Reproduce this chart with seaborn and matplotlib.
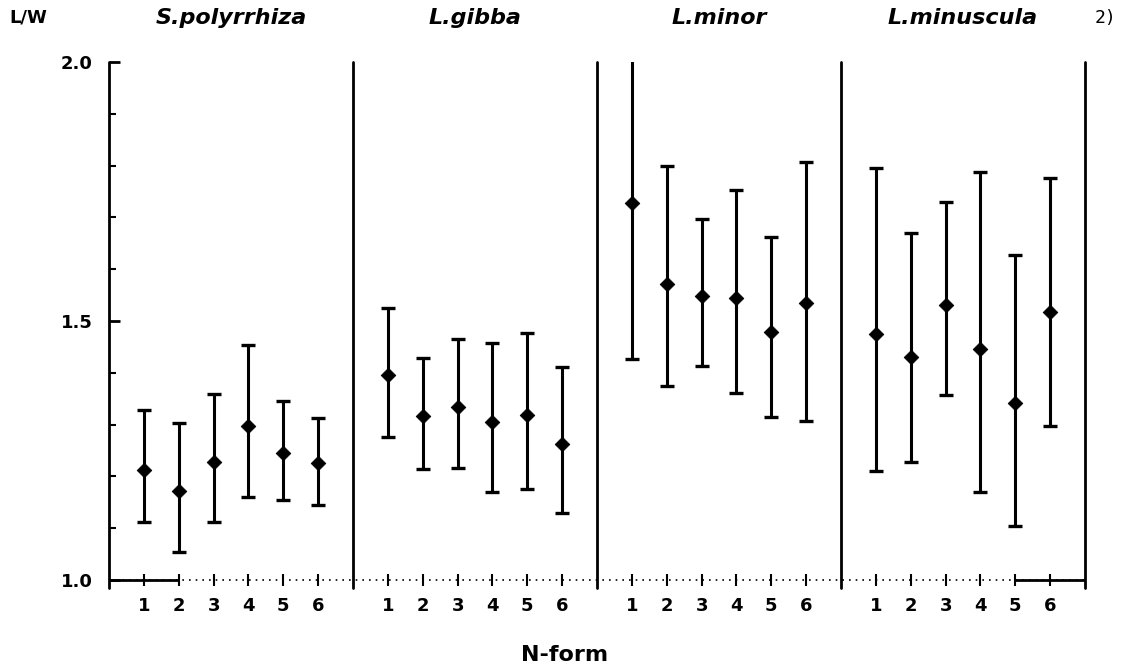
import numpy as np
import pandas as pd
import matplotlib
matplotlib.use("Agg")
import matplotlib.pyplot as plt
import seaborn as sns
from matplotlib.ticker import MultipleLocator, FixedLocator

## Lemna species, one panel each
species = ["S.polyrrhiza", "L.gibba", "L.minor", "L.minuscula"]
n_forms = [1, 2, 3, 4, 5, 6]

## mean L/W ratio per N-form (one row per species)
mean_lw = [
    [1.213, 1.172, 1.228, 1.297, 1.246, 1.226],
    [1.395, 1.316, 1.334, 1.305, 1.319, 1.263],
    [1.727, 1.571, 1.548, 1.544, 1.478, 1.535],
    [1.474, 1.431, 1.531, 1.445, 1.342, 1.517],
]
## top and bottom of the error bars (L.minor form 1 runs off the top)
upper_lw = [
    [1.328, 1.304, 1.359, 1.454, 1.346, 1.313],
    [1.525, 1.429, 1.465, 1.458, 1.477, 1.412],
    [2.030, 1.800, 1.697, 1.752, 1.663, 1.807],
    [1.796, 1.669, 1.730, 1.787, 1.628, 1.777],
]
lower_lw = [
    [1.112, 1.054, 1.112, 1.160, 1.155, 1.144],
    [1.276, 1.214, 1.216, 1.169, 1.176, 1.130],
    [1.427, 1.375, 1.413, 1.361, 1.314, 1.307],
    [1.211, 1.228, 1.357, 1.170, 1.105, 1.297],
]

## each panel is 7 units wide: forms sit at 1..6
width = len(n_forms) + 1
rows = []
for p, name in enumerate(species):
    for i, k in enumerate(n_forms):
        rows.append({"species": name, "form": k, "x": p * width + k,
                     "mean": mean_lw[p][i], "lo": lower_lw[p][i], "hi": upper_lw[p][i]})
df = pd.DataFrame(rows)

sns.set_style("ticks")
plt.rcParams["font.family"] = ["DejaVu Sans"]
plt.rcParams["text.color"] = "black"
plt.rcParams["xtick.color"] = "black"
plt.rcParams["ytick.color"] = "black"

fig = plt.figure(figsize=(11.25, 6.66), dpi=100)
ax = fig.add_axes([109 / 1125, 1 - 580 / 666, (1085 - 109) / 1125, 518 / 666])

ax.errorbar(df["x"], df["mean"], yerr=[df["mean"] - df["lo"], df["hi"] - df["mean"]],
            fmt="none", ecolor="black", elinewidth=2.2, capsize=5, capthick=2.4, zorder=2)
sns.scatterplot(data=df, x="x", y="mean", marker="D", s=55, color="black",
                edgecolor="black", ax=ax, zorder=3, legend=False)

total = width * len(species)
ax.set_xlim(0, total)
ax.set_ylim(1.0, 2.0)
for s in ax.spines.values():
    s.set_visible(False)

## panel borders, running slightly below the baseline
for p in range(len(species) + 1):
    ax.axvline(p * width, ymin=-0.016, ymax=1, color="black", lw=2, clip_on=False)

## baseline: dotted, with solid pieces at both ends
ax.axhline(1.0, color="black", lw=1.2, ls=(0, (1, 3)), clip_on=False)
ax.hlines([1.0, 1.0], [0, df["x"].iloc[-2]], [df["x"].iloc[1], total],
          color="black", lw=2, clip_on=False)

ax.xaxis.set_major_locator(FixedLocator(df["x"]))
ax.set_xticklabels([str(k) for k in df["form"]], fontsize=13, fontweight="bold")
ax.tick_params(axis="x", direction="inout", length=8, width=1.5, pad=8)

ax.yaxis.set_major_locator(FixedLocator([1.0, 1.5, 2.0]))
ax.yaxis.set_minor_locator(MultipleLocator(0.1))
ax.set_yticklabels(["1.0", "1.5", "2.0"], fontsize=13, fontweight="bold")
ax.tick_params(axis="y", which="major", direction="in", length=8, width=2, pad=12)
ax.tick_params(axis="y", which="minor", direction="in", length=5, width=1.5)
ax.set_xlabel("")
ax.set_ylabel("")

for p, name in enumerate(species):
    ax.text(p * width + width / 2, 1.085, name, transform=ax.get_xaxis_transform(),
            ha="center", va="center", fontsize=16, fontweight="bold", fontstyle="italic")

fig.text(28 / 1125, 1 - 18 / 666, "L/W", ha="center", va="center", fontsize=13, fontweight="bold")
fig.text(1105 / 1125, 1 - 18 / 666, "2)", ha="center", va="center", fontsize=13,
         family="DejaVu Sans Mono")
fig.text(565 / 1125, 1 - 655 / 666, "N-form", ha="center", va="center", fontsize=16,
         fontweight="bold")

fig.savefig("out.png", dpi=100)
